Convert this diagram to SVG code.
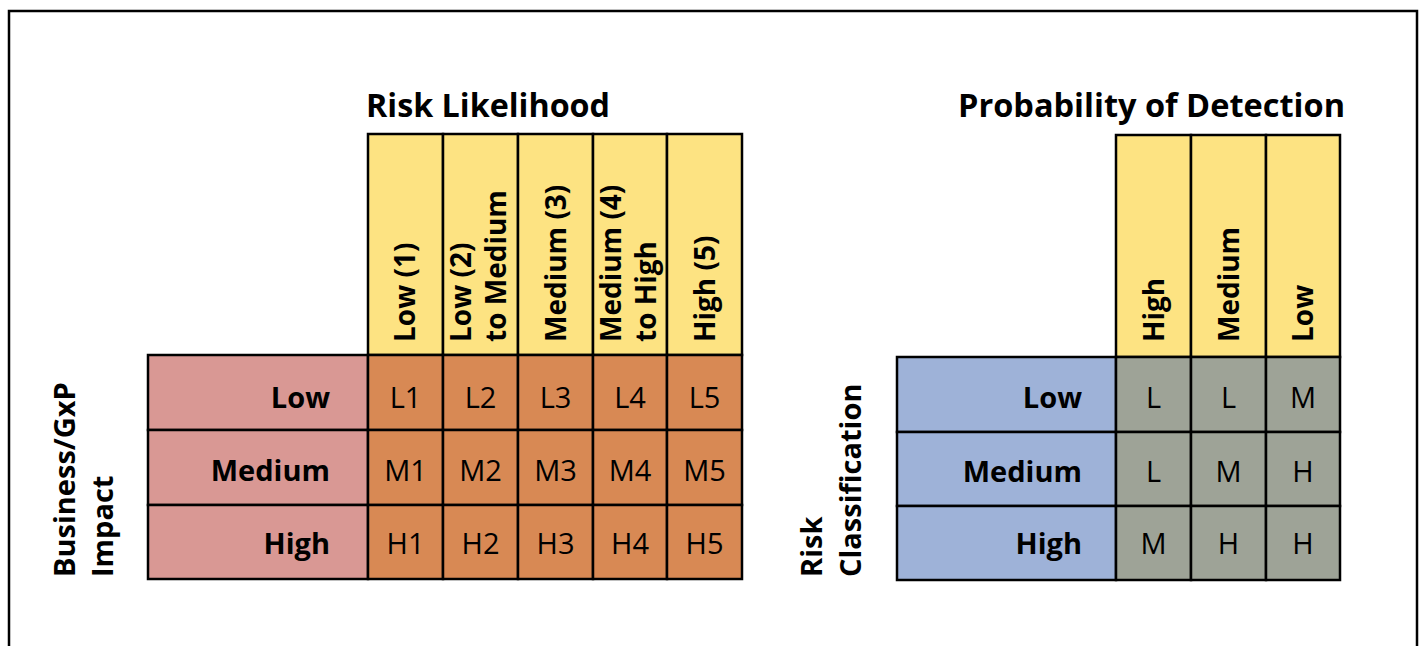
<svg xmlns="http://www.w3.org/2000/svg" width="1420" height="646" viewBox="0 0 1420 646">
<style>
.frame{fill:#fff;stroke:#000;stroke-width:2.5}
.cell{stroke:#000;stroke-width:2.5}
.yel{fill:#FDE382}
.ora{fill:#D88954}
.pink{fill:#D99894}
.blue{fill:#9EB2D8}
.gray{fill:#9EA397}
.title{font-family:"Open Sans",sans-serif;font-weight:bold;font-size:32px;fill:#000}
.axis{font-family:"Open Sans",sans-serif;font-weight:bold;font-size:29px;fill:#000}
.hdr{font-family:"Open Sans",sans-serif;font-weight:bold;font-size:28px;fill:#000}
.row{font-family:"Open Sans",sans-serif;font-weight:bold;font-size:29px;fill:#000;text-anchor:end}
.val{font-family:"Open Sans",sans-serif;font-size:29px;fill:#000;text-anchor:middle}
</style>
<rect class="frame" x="9" y="11" width="1408" height="650"/>

<g id="title-likelihood"><text class="title" x="366" y="117" textLength="244" lengthAdjust="spacingAndGlyphs">Risk Likelihood</text></g>
<g id="title-detection"><text class="title" x="958" y="117" textLength="387" lengthAdjust="spacingAndGlyphs">Probability of Detection</text></g>

<g id="axis-impact">
<text class="axis" transform="translate(75,577) rotate(-90)">Business/GxP<tspan x="0" dy="38">Impact</tspan></text>
</g>
<g id="axis-classification">
<text class="axis" transform="translate(822,577) rotate(-90)">Risk<tspan x="0" dy="39">Classification</tspan></text>
</g>

<!-- Left header columns -->
<g id="lh1"><rect class="cell yel" x="368" y="134" width="75" height="221"/><text class="hdr" transform="translate(415,342) rotate(-90)">Low (1)</text></g>
<g id="lh2"><rect class="cell yel" x="443" y="134" width="75" height="221"/><text class="hdr" transform="translate(471,342) rotate(-90)">Low (2)<tspan x="0" dy="35">to Medium</tspan></text></g>
<g id="lh3"><rect class="cell yel" x="518" y="134" width="75" height="221"/><text class="hdr" transform="translate(566,342) rotate(-90)">Medium (3)</text></g>
<g id="lh4"><rect class="cell yel" x="593" y="134" width="74" height="221"/><text class="hdr" transform="translate(621,342) rotate(-90)">Medium (4)<tspan x="0" dy="35">to High</tspan></text></g>
<g id="lh5"><rect class="cell yel" x="667" y="134" width="75" height="221"/><text class="hdr" transform="translate(715,342) rotate(-90)">High (5)</text></g>

<!-- Left row headers -->
<g id="lr1"><rect class="cell pink" x="148" y="355" width="220" height="75"/><text class="row" x="330" y="408">Low</text></g>
<g id="lr2"><rect class="cell pink" x="148" y="430" width="220" height="75"/><text class="row" x="330" y="481">Medium</text></g>
<g id="lr3"><rect class="cell pink" x="148" y="505" width="220" height="74"/><text class="row" x="330" y="554">High</text></g>

<!-- Left matrix -->
<g id="L1"><rect class="cell ora" x="368" y="355" width="75" height="75"/><text class="val" x="405.5" y="408">L1</text></g>
<g id="L2"><rect class="cell ora" x="443" y="355" width="75" height="75"/><text class="val" x="480.5" y="408">L2</text></g>
<g id="L3"><rect class="cell ora" x="518" y="355" width="75" height="75"/><text class="val" x="555.5" y="408">L3</text></g>
<g id="L4"><rect class="cell ora" x="593" y="355" width="74" height="75"/><text class="val" x="630" y="408">L4</text></g>
<g id="L5"><rect class="cell ora" x="667" y="355" width="75" height="75"/><text class="val" x="704.5" y="408">L5</text></g>
<g id="M1"><rect class="cell ora" x="368" y="430" width="75" height="75"/><text class="val" x="405.5" y="481">M1</text></g>
<g id="M2"><rect class="cell ora" x="443" y="430" width="75" height="75"/><text class="val" x="480.5" y="481">M2</text></g>
<g id="M3"><rect class="cell ora" x="518" y="430" width="75" height="75"/><text class="val" x="555.5" y="481">M3</text></g>
<g id="M4"><rect class="cell ora" x="593" y="430" width="74" height="75"/><text class="val" x="630" y="481">M4</text></g>
<g id="M5"><rect class="cell ora" x="667" y="430" width="75" height="75"/><text class="val" x="704.5" y="481">M5</text></g>
<g id="H1"><rect class="cell ora" x="368" y="505" width="75" height="74"/><text class="val" x="405.5" y="554">H1</text></g>
<g id="H2"><rect class="cell ora" x="443" y="505" width="75" height="74"/><text class="val" x="480.5" y="554">H2</text></g>
<g id="H3"><rect class="cell ora" x="518" y="505" width="75" height="74"/><text class="val" x="555.5" y="554">H3</text></g>
<g id="H4"><rect class="cell ora" x="593" y="505" width="74" height="74"/><text class="val" x="630" y="554">H4</text></g>
<g id="H5"><rect class="cell ora" x="667" y="505" width="75" height="74"/><text class="val" x="704.5" y="554">H5</text></g>

<!-- Right header columns -->
<g id="rh1"><rect class="cell yel" x="1116" y="135" width="75" height="222"/><text class="hdr" transform="translate(1164,342) rotate(-90)">High</text></g>
<g id="rh2"><rect class="cell yel" x="1191" y="135" width="75" height="222"/><text class="hdr" transform="translate(1239,342) rotate(-90)">Medium</text></g>
<g id="rh3"><rect class="cell yel" x="1266" y="135" width="74" height="222"/><text class="hdr" transform="translate(1313,342) rotate(-90)">Low</text></g>

<!-- Right row headers -->
<g id="rr1"><rect class="cell blue" x="897" y="357" width="219" height="75"/><text class="row" x="1082" y="408">Low</text></g>
<g id="rr2"><rect class="cell blue" x="897" y="432" width="219" height="74"/><text class="row" x="1082" y="482">Medium</text></g>
<g id="rr3"><rect class="cell blue" x="897" y="506" width="219" height="74"/><text class="row" x="1082" y="554">High</text></g>

<!-- Right matrix -->
<g id="r11"><rect class="cell gray" x="1116" y="357" width="75" height="75"/><text class="val" x="1153.5" y="408">L</text></g>
<g id="r12"><rect class="cell gray" x="1191" y="357" width="75" height="75"/><text class="val" x="1228.5" y="408">L</text></g>
<g id="r13"><rect class="cell gray" x="1266" y="357" width="74" height="75"/><text class="val" x="1303" y="408">M</text></g>
<g id="r21"><rect class="cell gray" x="1116" y="432" width="75" height="74"/><text class="val" x="1153.5" y="482">L</text></g>
<g id="r22"><rect class="cell gray" x="1191" y="432" width="75" height="74"/><text class="val" x="1228.5" y="482">M</text></g>
<g id="r23"><rect class="cell gray" x="1266" y="432" width="74" height="74"/><text class="val" x="1303" y="482">H</text></g>
<g id="r31"><rect class="cell gray" x="1116" y="506" width="75" height="74"/><text class="val" x="1153.5" y="554">M</text></g>
<g id="r32"><rect class="cell gray" x="1191" y="506" width="75" height="74"/><text class="val" x="1228.5" y="554">H</text></g>
<g id="r33"><rect class="cell gray" x="1266" y="506" width="74" height="74"/><text class="val" x="1303" y="554">H</text></g>
</svg>
